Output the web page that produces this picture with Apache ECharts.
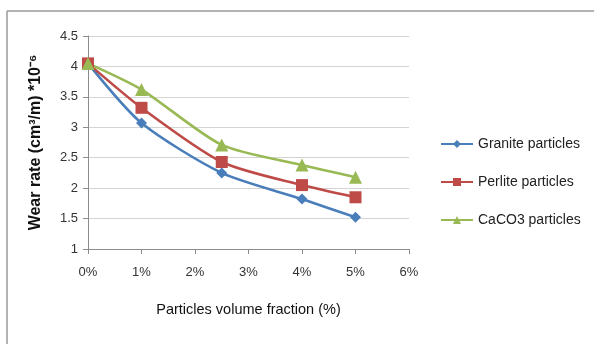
<!DOCTYPE html>
<html>
<head>
<meta charset="utf-8">
<script src="https://cdn.jsdelivr.net/npm/echarts@6/dist/echarts.min.js"></script>
<style>
  html, body { margin: 0; padding: 0; background: #fff; }
  #chart { width: 594px; height: 344px; }
</style>
</head>
<body>
<div id="chart"></div>
<script>
// Particle loading (% volume fraction) at which wear was measured
const fractions = [0, 1, 2.5, 4, 5];
// Wear rate values for each filler type
const granite = [4.05, 3.07, 2.25, 1.82, 1.52];
const perlite = [4.05, 3.32, 2.43, 2.05, 1.85];
const caco3   = [4.05, 3.62, 2.71, 2.38, 2.18];
const seriesNames = ['Granite particles', 'Perlite particles', 'CaCO3 particles'];
const xTitle = 'Particles volume fraction (%)';
const yTitle = 'Wear rate (cm\u00B3/m) *10\u207B\u2076';

const FONT = "'Liberation Sans', sans-serif";
const pairs = arr => fractions.map((x, i) => [x, arr[i]]);

const chart = echarts.init(document.getElementById('chart'), null, { renderer: 'canvas' });

function line(name, data, color, symbol, size) {
  return {
    name, type: 'line', data: pairs(data), smooth: 0.25,
    symbol, symbolSize: size,
    lineStyle: { color, width: 2.6 },
    itemStyle: { color },
    emphasis: { disabled: true }
  };
}

chart.setOption({
  animation: false,
  textStyle: { fontFamily: FONT },
  graphic: [
    { type: 'line', shape: { x1: 7, y1: 11, x2: 594, y2: 11 }, style: { stroke: '#9a9a9a', lineWidth: 1.5 } },
    { type: 'line', shape: { x1: 7, y1: 11, x2: 7, y2: 344 }, style: { stroke: '#9a9a9a', lineWidth: 1.5 } }
  ],
  grid: { left: 88, top: 36, width: 321, height: 213 },
  legend: {
    orient: 'vertical', left: 435, top: 132,
    itemWidth: 32, itemHeight: 10, itemGap: 24,
    textStyle: { fontFamily: FONT, fontSize: 14, color: '#222' },
    data: seriesNames
  },
  xAxis: {
    type: 'value', min: 0, max: 6, interval: 1,
    name: xTitle, nameLocation: 'middle', nameGap: 53,
    nameTextStyle: { fontFamily: FONT, fontSize: 14.5, color: '#111' },
    axisLine: { show: true, lineStyle: { color: '#8c8c8c', width: 1 } },
    axisTick: { show: true, length: 5, lineStyle: { color: '#8c8c8c' } },
    axisLabel: { formatter: v => v + '%', fontSize: 13, color: '#333', margin: 17 },
    splitLine: { show: false }
  },
  yAxis: {
    type: 'value', min: 1, max: 4.5, interval: 0.5,
    name: yTitle, nameLocation: 'middle', nameGap: 44, nameRotate: 90,
    nameTextStyle: { fontFamily: FONT, fontSize: 16, fontWeight: 'bold', color: '#111' },
    axisLine: { show: true, lineStyle: { color: '#8c8c8c', width: 1 } },
    axisTick: { show: true, length: 5, inside: false, lineStyle: { color: '#8c8c8c' } },
    axisLabel: { fontSize: 13, color: '#333', margin: 10 },
    splitLine: { show: true, lineStyle: { color: '#d4d4d4', width: 1 } }
  },
  series: [
    line(seriesNames[0], granite, '#4a7ebb', 'diamond', 11),
    line(seriesNames[1], perlite, '#be4b48', 'rect', 12),
    line(seriesNames[2], caco3, '#98b954', 'triangle', 13)
  ]
});
</script>
</body>
</html>
